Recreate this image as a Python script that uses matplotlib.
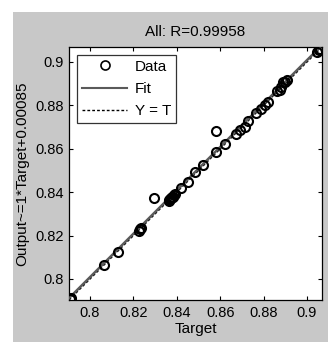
import matplotlib
matplotlib.use("Agg")
import matplotlib.pyplot as plt
from matplotlib.patches import Rectangle
from matplotlib.lines import Line2D

# regression data (target, network output)
targets = [0.7908, 0.7911, 0.8066, 0.8130, 0.8226, 0.8231, 0.8237, 0.8296,
           0.8362, 0.8366, 0.8370, 0.8374, 0.8378, 0.8382, 0.8387, 0.8392,
           0.8420, 0.8450, 0.8484, 0.8520, 0.8580, 0.8580, 0.8622, 0.8673,
           0.8690, 0.8712, 0.8728, 0.8766, 0.8788, 0.8806, 0.8820,
           0.8862, 0.8874, 0.8882, 0.8891, 0.8900, 0.8906,
           0.9048, 0.9055, 0.9062]
outputs = [0.7908, 0.7912, 0.8064, 0.8126, 0.8222, 0.8228, 0.8236, 0.8373,
           0.8358, 0.8364, 0.8368, 0.8372, 0.8376, 0.8380, 0.8385, 0.8390,
           0.8417, 0.8446, 0.8495, 0.8526, 0.8585, 0.8680, 0.8623, 0.8668,
           0.8688, 0.8700, 0.8726, 0.8763, 0.8784, 0.8800, 0.8816,
           0.8868, 0.8872, 0.8886, 0.8906, 0.8910, 0.8916,
           0.9046, 0.9054, 0.9061]

fit_slope = 1.0
fit_offset = 0.00085
r_value = 0.99958
lims = [0.7903, 0.9069]
ticks = [0.8, 0.82, 0.84, 0.86, 0.88, 0.9]
tick_labels = ["0.8", "0.82", "0.84", "0.86", "0.88", "0.9"]

plt.rcParams['font.family'] = ['Liberation Sans', 'DejaVu Sans']

fig = plt.figure(figsize=(3.28, 3.42), dpi=100, facecolor='white')
# grey matlab-style figure panel (white strip top/left)
fig.patches.append(Rectangle((13 / 328, 0), 1, 1 - 12 / 342, transform=fig.transFigure,
                             facecolor='#c8c8c8', edgecolor='none', zorder=-5))

ax = fig.add_axes([69 / 328, 42 / 342, 253 / 328, 253 / 342])
ax.set_zorder(2)
ax.set_facecolor('white')

ax.plot(lims, lims, color='black', linestyle=(0, (2, 1.5)), linewidth=1.0, zorder=2)
ax.plot(lims, [fit_slope * v + fit_offset for v in lims], color='#5a5a5a',
        linewidth=1.8, zorder=3)
ax.plot(targets, outputs, linestyle='none', marker='o', markersize=6.5,
        markerfacecolor='none', markeredgecolor='black', markeredgewidth=1.5, zorder=4)

ax.set_xlim(lims)
ax.set_ylim(lims)
ax.set_xticks(ticks)
ax.set_yticks(ticks)
ax.set_xticklabels(tick_labels)
ax.set_yticklabels(tick_labels)
ax.tick_params(direction='in', length=3, width=0.8, top=True, right=True,
               labelsize=10.5, pad=4, colors='black')
for s in ax.spines.values():
    s.set_linewidth(0.9)

ax.set_title("All: R=%.5f" % r_value, fontsize=11, pad=8)
ax.set_xlabel("Target", fontsize=11, labelpad=2)
ax.set_ylabel("Output~=1*Target+0.00085", fontsize=11, labelpad=4)

handles = [Line2D([], [], linestyle='none', marker='o', markersize=6.5,
                  markerfacecolor='none', markeredgecolor='black', markeredgewidth=1.2),
           Line2D([], [], color='#5a5a5a', linewidth=1.5),
           Line2D([], [], color='black', linestyle=(0, (2, 1.5)), linewidth=1.0)]
leg = ax.legend(handles, ["Data", "Fit", "Y = T"], loc='upper left',
                bbox_to_anchor=(8 / 253, 1 - 8 / 253), borderaxespad=0,
                fontsize=11, frameon=True, fancybox=False, handlelength=3.0,
                handletextpad=0.5, labelspacing=0.55, borderpad=0.3)
leg.get_frame().set_edgecolor('black')
leg.get_frame().set_linewidth(0.9)

fig.savefig("out.png", dpi=100, facecolor=fig.get_facecolor())
